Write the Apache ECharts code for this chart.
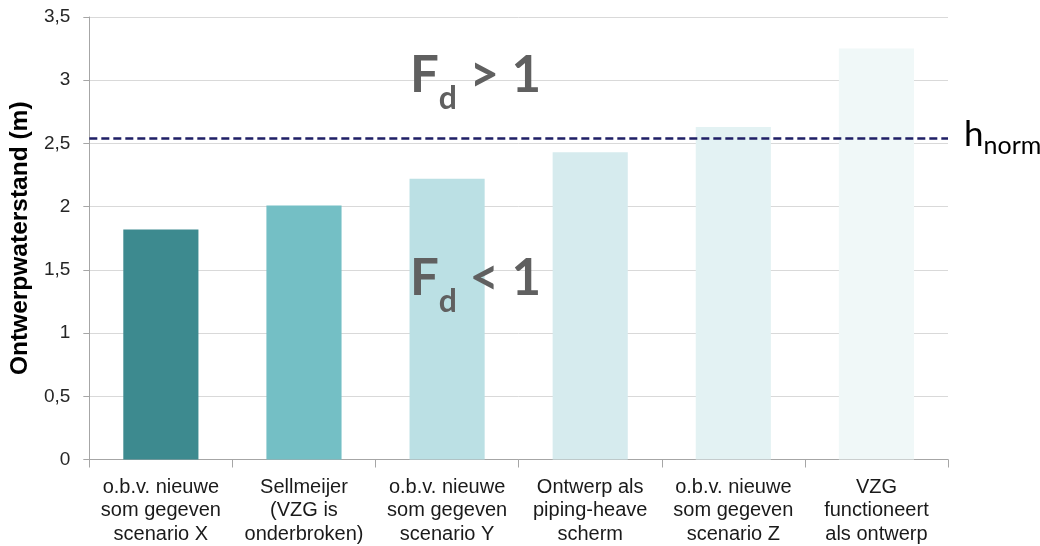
<!DOCTYPE html>
<html>
<head>
<meta charset="utf-8">
<script src="https://cdn.jsdelivr.net/npm/echarts@6/dist/echarts.min.js"></script>
<style>
  html, body { margin: 0; padding: 0; background: #ffffff; }
  #chart { width: 1040px; height: 546px; }
</style>
</head>
<body>
<div id="chart"></div>
<script>
// Design water levels per scenario (m)
const categories = [
  'o.b.v. nieuwe\nsom gegeven\nscenario X',
  'Sellmeijer\n(VZG is\nonderbroken)',
  'o.b.v. nieuwe\nsom gegeven\nscenario Y',
  'Ontwerp als\npiping-heave\nscherm',
  'o.b.v. nieuwe\nsom gegeven\nscenario Z',
  'VZG\nfunctioneert\nals ontwerp'
];
const waterLevels = [1.82, 2.01, 2.22, 2.43, 2.63, 3.25];
const barColors = ['#3d8a8f', '#74bfc5', '#bbe0e4', '#d6ebee', '#e3f2f3', '#f0f8f8'];
const hNorm = 2.54;
const yTicks = { min: 0, max: 3.5, interval: 0.5 };

const chart = echarts.init(document.getElementById('chart'), null, { renderer: 'canvas' });

// rich text for the "F_d > 1" / "F_d < 1" zone annotations
const fdRich = {
  f: { fontFamily: 'Lato', fontWeight: 'bold', fontSize: 51, fill: '#606060', verticalAlign: 'bottom', lineHeight: 60, padding: [0, 0, 14, 0] },
  d: { fontFamily: 'Lato', fontWeight: 'bold', fontSize: 32, fill: '#606060', verticalAlign: 'bottom', lineHeight: 40 }
};

chart.setOption({
  animation: false,
  backgroundColor: '#ffffff',
  grid: { left: 89, right: 92, top: 17, bottom: 86, containLabel: false },
  xAxis: {
    type: 'category',
    data: categories,
    axisLine: { lineStyle: { color: '#a6a6a6', width: 1 } },
    axisTick: { show: true, length: 8, lineStyle: { color: '#a6a6a6' } },
    axisLabel: {
      interval: 0,
      margin: 16,
      fontFamily: 'Liberation Sans',
      fontSize: 20,
      lineHeight: 23.5,
      color: '#1a1a1a'
    }
  },
  yAxis: {
    type: 'value',
    min: yTicks.min,
    max: yTicks.max,
    interval: yTicks.interval,
    name: 'Ontwerpwaterstand (m)',
    nameLocation: 'middle',
    nameGap: 55,
    nameTextStyle: { fontFamily: 'Liberation Sans', fontWeight: 'bold', fontSize: 24.5, color: '#000000' },
    axisLine: { show: true, lineStyle: { color: '#a6a6a6', width: 1 } },
    axisTick: { show: true, length: 6, lineStyle: { color: '#a6a6a6' } },
    axisLabel: {
      margin: 19,
      fontFamily: 'Liberation Sans',
      fontSize: 19,
      color: '#262626',
      formatter: v => String(v).replace('.', ',')
    },
    splitLine: { lineStyle: { color: '#d9d9d9', width: 1 } }
  },
  series: [{
    type: 'bar',
    data: waterLevels.map((v, i) => ({ value: v, itemStyle: { color: barColors[i] } })),
    barWidth: '52.5%',
    markLine: {
      silent: true,
      symbol: 'none',
      lineStyle: { color: '#1f1f66', type: [8, 4], width: 2.5 },
      label: {
        show: true,
        position: 'end',
        distance: 16,
        formatter: '{h|h}{s|norm}',
        rich: {
          h: { fontFamily: 'Lato', fontSize: 35, color: '#000000', verticalAlign: 'bottom', lineHeight: 40, padding: [0, 0, 6, 0] },
          s: { fontFamily: 'Lato', fontSize: 25, color: '#000000', verticalAlign: 'bottom', lineHeight: 30 }
        }
      },
      data: [{ yAxis: hNorm }]
    }
  }],
  graphic: [
    {
      type: 'text', left: 410, top: 50, z: 10,
      style: { text: '{f|F}{d|d}{f| > 1}', rich: fdRich }
    },
    {
      type: 'text', left: 410, top: 253, z: 10,
      style: { text: '{f|F}{d|d}{f| < 1}', rich: fdRich }
    }
  ]
});
</script>
</body>
</html>
